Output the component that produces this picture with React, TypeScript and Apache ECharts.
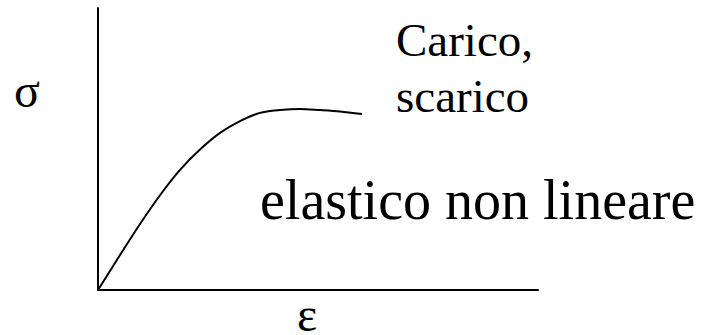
import React, { useEffect, useRef } from "react";
import * as echarts from "echarts";

// Strain (ε) samples along the loading/unloading curve
const strain = [0, 5.0, 9.55, 14.09, 18.64, 23.18, 27.73, 32.27, 36.82, 41.36, 45.91, 50.45, 55.0, 60.0];
// Stress (σ) at each strain sample
const stress = [0, 12.4, 23.4, 33.6, 42.6, 49.8, 55.7, 59.9, 62.8, 63.8, 64.2, 63.8, 63.3, 62.4];

const stressSymbol = "σ";
const strainSymbol = "ε";
const curveNoteLines = ["Carico,", "scarico"];
const behaviourLabel = "elastico non lineare";

const SERIF = "Liberation Serif";

// Text placed by its left edge and vertical centre
function label(text: string, x: number, cy: number, size: number) {
  return {
    type: "text",
    x,
    y: cy - size / 2,
    style: {
      text,
      fontFamily: SERIF,
      fontSize: size,
      fill: "#000",
    },
  };
}

export default function App() {
  const ref = useRef<HTMLDivElement>(null);

  useEffect(() => {
    if (!ref.current) return;
    const chart = echarts.init(ref.current, null, { renderer: "svg" });
    const axisLine = { show: true, lineStyle: { color: "#000", width: 2 } };
    chart.setOption({
      animation: false,
      grid: { left: 98, top: 8, right: 181, bottom: 45, containLabel: false },
      xAxis: {
        type: "value",
        min: 0,
        max: 100,
        axisLine,
        axisTick: { show: false },
        axisLabel: { show: false },
        splitLine: { show: false },
      },
      yAxis: {
        type: "value",
        min: 0,
        max: 100,
        axisLine,
        axisTick: { show: false },
        axisLabel: { show: false },
        splitLine: { show: false },
      },
      series: [
        {
          type: "line",
          data: strain.map((x, i) => [x, stress[i]]),
          smooth: 0.3,
          showSymbol: false,
          lineStyle: { color: "#000", width: 2 },
        },
      ],
      graphic: [
        label(stressSymbol, 14, 90, 48),
        label(strainSymbol, 297, 314, 48),
        label(curveNoteLines[0], 396, 40, 47),
        label(curveNoteLines[1], 396, 96, 47),
        label(behaviourLabel, 260, 200, 56),
      ],
    });
    return () => chart.dispose();
  }, []);

  return (
    <div
      style={{
        position: "fixed",
        left: 0,
        top: 0,
        width: 719,
        height: 335,
        background: "#fff",
        fontFamily: SERIF,
      }}
    >
      <div ref={ref} style={{ width: 719, height: 335 }} />
      {/* warms up the serif face used by the chart's SVG texts */}
      <span
        aria-hidden="true"
        style={{ position: "absolute", left: 0, top: 0, opacity: 0, fontFamily: SERIF, fontSize: 30 }}
      >
        {"\u00a0"}
      </span>
    </div>
  );
}
